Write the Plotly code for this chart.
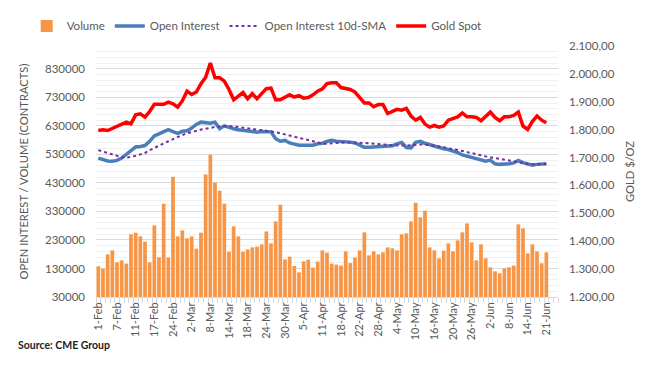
import plotly.graph_objects as go

dates = [
    "1-Feb", "2-Feb", "3-Feb", "4-Feb", "7-Feb", "8-Feb", "9-Feb", "10-Feb", "11-Feb", "14-Feb",
    "15-Feb", "16-Feb", "17-Feb", "18-Feb", "22-Feb", "23-Feb", "24-Feb", "25-Feb", "28-Feb",
    "1-Mar", "2-Mar", "3-Mar", "4-Mar", "7-Mar", "8-Mar", "9-Mar", "10-Mar", "11-Mar", "14-Mar",
    "15-Mar", "16-Mar", "17-Mar", "18-Mar", "21-Mar", "22-Mar", "23-Mar", "24-Mar", "25-Mar",
    "28-Mar", "29-Mar", "30-Mar", "31-Mar",
    "1-Apr", "4-Apr", "5-Apr", "6-Apr", "7-Apr", "8-Apr", "11-Apr", "12-Apr", "13-Apr", "14-Apr",
    "18-Apr", "19-Apr", "20-Apr", "21-Apr", "22-Apr", "25-Apr", "26-Apr", "27-Apr", "28-Apr", "29-Apr",
    "2-May", "3-May", "4-May", "5-May", "6-May", "9-May", "10-May", "11-May", "12-May", "13-May",
    "16-May", "17-May", "18-May", "19-May", "20-May", "23-May", "24-May", "25-May", "26-May",
    "27-May", "31-May",
    "1-Jun", "2-Jun", "3-Jun", "6-Jun", "7-Jun", "8-Jun", "9-Jun", "10-Jun", "13-Jun", "14-Jun",
    "15-Jun", "16-Jun", "17-Jun", "21-Jun", "22-Jun", "23-Jun",
]

volume = [
    137500, 129000, 179500, 193500, 151500, 158500, 147000, 249600, 255500, 242600,
    224000, 151500, 281000, 169000, 357000, 169000, 451600, 242600, 263600, 235600,
    242600, 199500, 255500, 459800, 528800, 430700, 402700, 357000, 189000, 277600,
    242600, 189000, 197000, 204000, 206500, 214600, 260000, 218000, 295000, 353600,
    162000, 171500, 138600, 116500, 155000, 161000, 133000, 154000, 193500, 185500,
    147000, 143500, 140000, 190000, 149000, 168000, 193500, 256600, 176000, 190000,
    179500, 186600, 204000, 200600, 193500, 249600, 253000, 295000, 360600, 309000,
    332600, 204000, 193500, 165500, 192500, 218000, 190000, 228600, 256600, 288000,
    221600, 158500, 214600, 165500, 134000, 120000, 113000, 130500, 134000, 140000,
    284600, 270600, 183000, 214600, 190000, 148000, 186600, None, None,
]

open_interest = [
    517000, 512000, 507000, 506000, 509000, 517000, 530000, 544000, 556000, 558000,
    561000, 576000, 595000, 602000, 611000, 617000, 610000, 604000, 611000, 613000,
    622000, 635000, 643000, 642000, 639000, 643000, 620000, 630000, 624000, 620000,
    616000, 614000, 614000, 613000, 608000, 610000, 611000, 609000, 585000, 576000,
    579000, 570000, 566000, 562000, 562000, 562000, 562000, 567000, 569000, 575000,
    579000, 576000, 576000, 574000, 573000, 570000, 562000, 555000, 555000, 556000,
    559000, 561000, 560000, 560000, 567000, 572000, 554000, 553000, 572000, 576000,
    569000, 564000, 558000, 553000, 550000, 547000, 543000, 536000, 528000, 524000,
    519000, 515000, 509000, 506000, 510000, 497000, 495000, 495000, 497000, 500000,
    509000, 501000, 496000, 492000, 495000, 497000, 497000, None, None,
]

oi_sma10 = [
    545000, 540000, 535000, 530000, 526000, 520000, 518000, 521000, 525000, 530000,
    535000, 545000, 552000, 560000, 568000, 576000, 584000, 590000, 598000, 604000,
    609000, 613000, 617000, 620000, 624000, 626000, 628000, 629000, 629000, 628000,
    626000, 623000, 621000, 619000, 617000, 615000, 613000, 611000, 608000, 604000,
    600000, 597000, 593000, 590000, 586000, 581000, 576000, 572000, 568000, 567000,
    569000, 570000, 572000, 572000, 572000, 572000, 571000, 570000, 569000, 567000,
    565000, 564000, 563000, 562000, 561000, 561000, 561000, 562000, 564000, 565000,
    564000, 563000, 560000, 558000, 555000, 553000, 550000, 546000, 542000, 538000,
    535000, 531000, 527000, 523000, 520000, 516000, 515000, 512000, 509000, 506000,
    502000, 500000, 497000, 496000, 495000, 495000, 496000, None, None,
]

gold_spot = [
    1797, 1800, 1797, 1805, 1812, 1819, 1827, 1821, 1853, 1857,
    1845, 1865, 1891, 1891, 1891, 1899, 1893, 1881, 1903, 1938,
    1926, 1935, 1965, 1988, 2039, 1986, 1986, 1974, 1944, 1907,
    1919, 1933, 1911, 1929, 1911, 1931, 1947, 1949, 1907, 1907,
    1917, 1925, 1917, 1922, 1913, 1915, 1925, 1938, 1946, 1965,
    1968, 1968, 1951, 1947, 1944, 1935, 1917, 1896, 1896, 1882,
    1890, 1890, 1858, 1864, 1873, 1870, 1876, 1849, 1834, 1844,
    1820, 1809, 1815, 1809, 1813, 1834, 1839, 1846, 1860, 1846,
    1846, 1844, 1832, 1846, 1863, 1844, 1832, 1846, 1846, 1851,
    1863, 1813, 1801, 1829, 1849, 1834, 1825, None, None,
]

left_ticks = [30000, 130000, 230000, 330000, 430000, 530000, 630000, 730000, 830000]
right_ticks = [1200, 1300, 1400, 1500, 1600, 1700, 1800, 1900, 2000, 2100]

FONT = "Lato"
GRAY = "#595959"

fig = go.Figure()
fig.add_trace(go.Bar(x=dates, y=volume, name="Volume", marker=dict(color="#F79646", line=dict(width=0))))
fig.add_trace(go.Scatter(x=dates, y=open_interest, name="Open Interest", mode="lines",
                         line=dict(color="#4A7EBB", width=3.5)))
fig.add_trace(go.Scatter(x=dates, y=oi_sma10, name="Open Interest 10d-SMA", mode="lines",
                         line=dict(color="#7030A0", width=2, dash="dot")))
fig.add_trace(go.Scatter(x=dates, y=gold_spot, name="Gold Spot", mode="lines", yaxis="y2",
                         line=dict(color="#FF0000", width=3.5)))

# page body has an 8px margin, so the figure is sized to fit inside the window
fig.update_layout(
    width=644, height=358,
    margin=dict(l=88, r=94, t=38, b=69, autoexpand=False),
    paper_bgcolor="white", plot_bgcolor="white",
    font=dict(family=FONT, size=11, color=GRAY),
    separators=",.",
    bargap=0.2,
    showlegend=True,
    legend=dict(orientation="h", x=-0.15, y=1.08, xanchor="left", yanchor="middle",
                font=dict(family=FONT, size=11.5, color=GRAY), itemwidth=30,
                traceorder="normal", bgcolor="rgba(0,0,0,0)"),
    xaxis=dict(
        type="category", range=[-0.5, len(dates) - 0.5],
        tickmode="array", tickvals=dates,
        ticktext=[d if i % 4 == 0 else "" for i, d in enumerate(dates)],
        tickson="boundaries", ticks="outside", ticklen=5, tickcolor="#d9d9d9",
        tickangle=-90, tickfont=dict(size=11, color=GRAY),
        showline=True, linecolor="#d9d9d9", linewidth=1,
        showgrid=False, zeroline=False,
    ),
    yaxis=dict(
        range=[30000, 910000], tickvals=left_ticks, tickformat="d",
        showgrid=True, gridcolor="#d9d9d9", gridwidth=1, zeroline=False,
        minor=dict(tick0=30000, dtick=20000, showgrid=True, gridcolor="#f0f0f0", gridwidth=1),
        tickfont=dict(size=11.5, color=GRAY), ticks="", ticklabelstandoff=10,
        title=dict(text="OPEN INTEREST / VOLUME (CONTRACTS)", font=dict(size=11.2, color=GRAY), standoff=14),
    ),
    yaxis2=dict(
        range=[1200, 2100], overlaying="y", side="right", tickvals=right_ticks,
        tickformat=",.2f", showgrid=False, zeroline=False,
        tickfont=dict(size=11.5, color=GRAY), ticklabelstandoff=10,
        title=dict(text="GOLD $/OZ", font=dict(size=11.2, color=GRAY), standoff=12),
    ),
    annotations=[dict(text="<b>Source: CME Group</b>", xref="paper", yref="paper",
                      x=-0.173, y=-0.19, xanchor="left", yanchor="middle", showarrow=False,
                      font=dict(family=FONT, size=10.5, color="#222222"))],
)

fig.write_html("out.html")
